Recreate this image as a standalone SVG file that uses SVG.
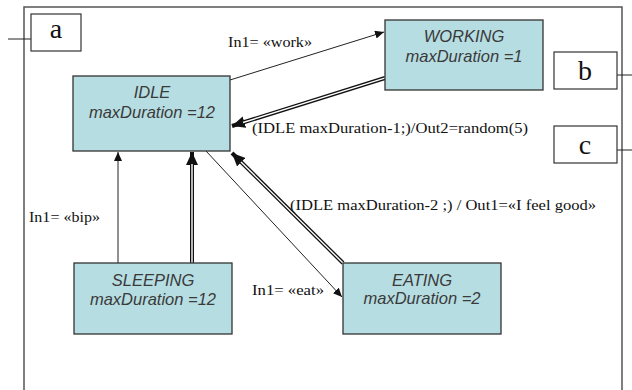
<svg xmlns="http://www.w3.org/2000/svg" width="632" height="390" viewBox="0 0 632 390">
<style>
.frame{fill:none;stroke:#555;stroke-width:1.5}
.tag{fill:#fff;stroke:#333;stroke-width:1.2}
.tagt{font-family:"Liberation Serif",serif;font-size:28px;fill:#111;text-anchor:middle}
.node{fill:#b6dde2;stroke:#333;stroke-width:1.3}
.nt{font-family:"Liberation Sans",Arial,sans-serif;font-style:italic;font-size:16.5px;fill:#3a3a3a;text-anchor:middle}
.lbl{font-family:"Liberation Serif",serif;font-size:15.5px;fill:#111}
.s{stroke:#222;stroke-width:1;fill:none}
.dbl{stroke:#111;stroke-width:4;fill:none}
.dbw{stroke:#fff;stroke-width:1.4;fill:none}
</style>
<defs>
<marker id="ah" markerUnits="userSpaceOnUse" markerWidth="10" markerHeight="8" refX="9" refY="4" orient="auto"><path d="M0,0 L9,4 L0,8 Z" fill="#111"/></marker>
<marker id="ahb" markerUnits="userSpaceOnUse" markerWidth="14" markerHeight="12" refX="13" refY="6" orient="auto"><path d="M0,0 L13,6 L0,12 Z" fill="#111"/></marker>
</defs>
<rect class="frame" x="24" y="7" width="598" height="400"/>
<g id="tag-a"><line class="s" x1="8" y1="39" x2="31" y2="39"/><rect class="tag" x="31" y="14" width="50" height="37"/><text class="tagt" x="56" y="38">a</text></g>
<g id="tag-b"><line class="s" x1="617" y1="75" x2="632" y2="75"/><rect class="tag" x="554" y="52" width="63" height="37"/><text class="tagt" x="585" y="80">b</text></g>
<g id="tag-c"><line class="s" x1="617" y1="150" x2="632" y2="150"/><rect class="tag" x="554" y="126" width="63" height="37"/><text class="tagt" x="585" y="154">c</text></g>
<g id="connectors">
<line class="s" x1="230" y1="80" x2="384" y2="32" marker-end="url(#ah)"/>
<text class="lbl" x="228" y="47" textLength="84" lengthAdjust="spacingAndGlyphs">In1= «work»</text>
<line class="dbl" x1="385" y1="78" x2="232" y2="126" marker-end="url(#ahb)"/>
<line class="dbw" x1="387" y1="77.4" x2="243" y2="122.5"/>
<text class="lbl" x="252" y="133" textLength="276" lengthAdjust="spacingAndGlyphs">(IDLE maxDuration-1;)/Out2=random(5)</text>
<line class="s" x1="118" y1="263" x2="118" y2="152" marker-end="url(#ah)"/>
<text class="lbl" x="29" y="222" textLength="71" lengthAdjust="spacingAndGlyphs">In1= «bip»</text>
<line class="dbl" x1="192" y1="263" x2="192" y2="152" marker-end="url(#ahb)"/>
<line class="dbw" x1="192" y1="265" x2="192" y2="164"/>
<line class="s" x1="206" y1="151" x2="342" y2="297" marker-end="url(#ah)"/>
<text class="lbl" x="252" y="295" textLength="72" lengthAdjust="spacingAndGlyphs">In1= «eat»</text>
<line class="dbl" x1="343" y1="263" x2="232" y2="153" marker-end="url(#ahb)"/>
<line class="dbw" x1="344" y1="264" x2="241" y2="162"/>
<text class="lbl" x="290" y="210" textLength="306" lengthAdjust="spacingAndGlyphs">(IDLE maxDuration-2 ;) / Out1=«I feel good»</text>
</g>
<g id="idle"><rect class="node" x="73" y="76" width="157" height="75"/><text class="nt" x="152" y="98">IDLE</text><text class="nt" x="152" y="118">maxDuration =12</text></g>
<g id="working"><rect class="node" x="385" y="20" width="158" height="70"/><text class="nt" x="464" y="42">WORKING</text><text class="nt" x="464" y="62">maxDuration =1</text></g>
<g id="sleeping"><rect class="node" x="74" y="263" width="158" height="71"/><text class="nt" x="153" y="286">SLEEPING</text><text class="nt" x="153" y="305">maxDuration =12</text></g>
<g id="eating"><rect class="node" x="343" y="263" width="158" height="71"/><text class="nt" x="422" y="286">EATING</text><text class="nt" x="422" y="304">maxDuration =2</text></g>
</svg>
